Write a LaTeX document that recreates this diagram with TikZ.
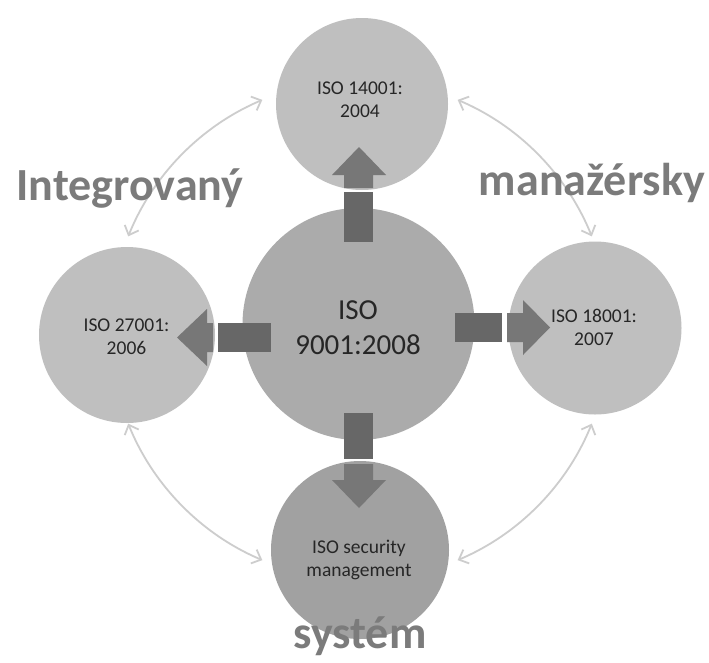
\documentclass[tikz,border=0pt]{standalone}
\usepackage{fontspec}
\setmainfont{Carlito}
\usetikzlibrary{arrows.meta}
\definecolor{circlight}{HTML}{BFBFBF}
\definecolor{circmid}{HTML}{ABABAB}
\definecolor{circdark}{HTML}{A1A1A1}
\definecolor{arrowdark}{HTML}{676767}
\definecolor{arrowtip}{HTML}{777777}
\definecolor{arcgray}{HTML}{CDCDCD}
\definecolor{wordgray}{HTML}{7B7B7B}
\definecolor{labeltext}{HTML}{262626}
\begin{document}
\begin{tikzpicture}[x=1pt,y=-1pt,
  disc/.style={circle, inner sep=0pt, draw=none},
  smalltext/.style={font=\fontsize{19.5}{23}\selectfont, text=labeltext, align=center, inner sep=0pt},
  bigtext/.style={font=\fontsize{29}{35}\selectfont, text=labeltext, align=center, inner sep=0pt},
  word/.style={font=\bfseries\fontsize{46}{50}\selectfont, text=wordgray, inner sep=0pt, anchor=base},
  arcline/.style={draw=arcgray, line width=1.8pt,
    arrows={Straight Barb[length=8pt,width=15pt]-Straight Barb[length=8pt,width=15pt]}},
  shaft/.style={fill=arrowdark},
  headpart/.style={fill=arrowtip}]
\useasboundingbox (0,0) rectangle (709,662);
\fill[white] (0,0) rectangle (709,662);

% circles
\node[disc, fill=circlight, minimum size=172pt] (top) at (362,104) {};
\node[disc, fill=circlight, minimum size=176pt] (left) at (127,335) {};
\node[disc, fill=circlight, minimum size=173pt] (right) at (595,328) {};
\node[disc, fill=circdark, minimum size=178pt] (bottom) at (360,550) {};
\node[disc, fill=circmid, minimum size=232pt] (center) at (358.5,324) {};

% curved connectors on a ring around the hub
\coordinate (hub) at (360,330);
\path (hub) +(-158:250) coordinate (tlA)
            +(-67:250)  coordinate (trA)
            +(113:250)  coordinate (blA)
            +(22:250)   coordinate (brA);
\draw[arcline] (tlA) arc[start angle=-158, end angle=-113, radius=250];
\draw[arcline] (trA) arc[start angle=-67, end angle=-22, radius=250];
\draw[arcline] (blA) arc[start angle=113, end angle=158, radius=250];
\draw[arcline] (brA) arc[start angle=22, end angle=67, radius=250];

% block arrows
\fill[shaft] (344,192) rectangle (373,242);
\fill[headpart] (344,188) -- (344,175) -- (332,175) -- (359,147) -- (386,175) -- (373,175) -- (373,188) -- cycle;
\fill[shaft] (455,313) rectangle (502,342);
\fill[headpart] (507,313) -- (523,313) -- (523,300) -- (550,327.5) -- (523,355) -- (523,342) -- (507,342) -- cycle;
\fill[shaft] (344,413) rectangle (373,459);
\fill[headpart] (344,464) -- (344,480) -- (332,480) -- (359,508) -- (386,480) -- (373,480) -- (373,464) -- cycle;
\fill[shaft] (218,323) rectangle (271,352);
\fill[headpart] (213,323) -- (207,323) -- (207,309) -- (177,337.5) -- (207,366) -- (207,352) -- (213,352) -- cycle;

% texts
\node[smalltext] (topText) at (360,100) {ISO 14001:\\2004};
\node[smalltext] (leftText) at (126.5,337) {ISO 27001:\\2006};
\node[smalltext] (rightText) at (594,327) {ISO 18001:\\2007};
\node[smalltext] (bottomText) at (359,560) {ISO security\\management};
\node[bigtext] (centerText) at (358,328) {ISO\\9001:2008};

\node[word] (w1) at (130,200) {Integrovaný};
\node[word] (w2) at (592,195) {manažérsky};
\node[word] (w3) at (360,648) {systém};
\end{tikzpicture}
\end{document}
